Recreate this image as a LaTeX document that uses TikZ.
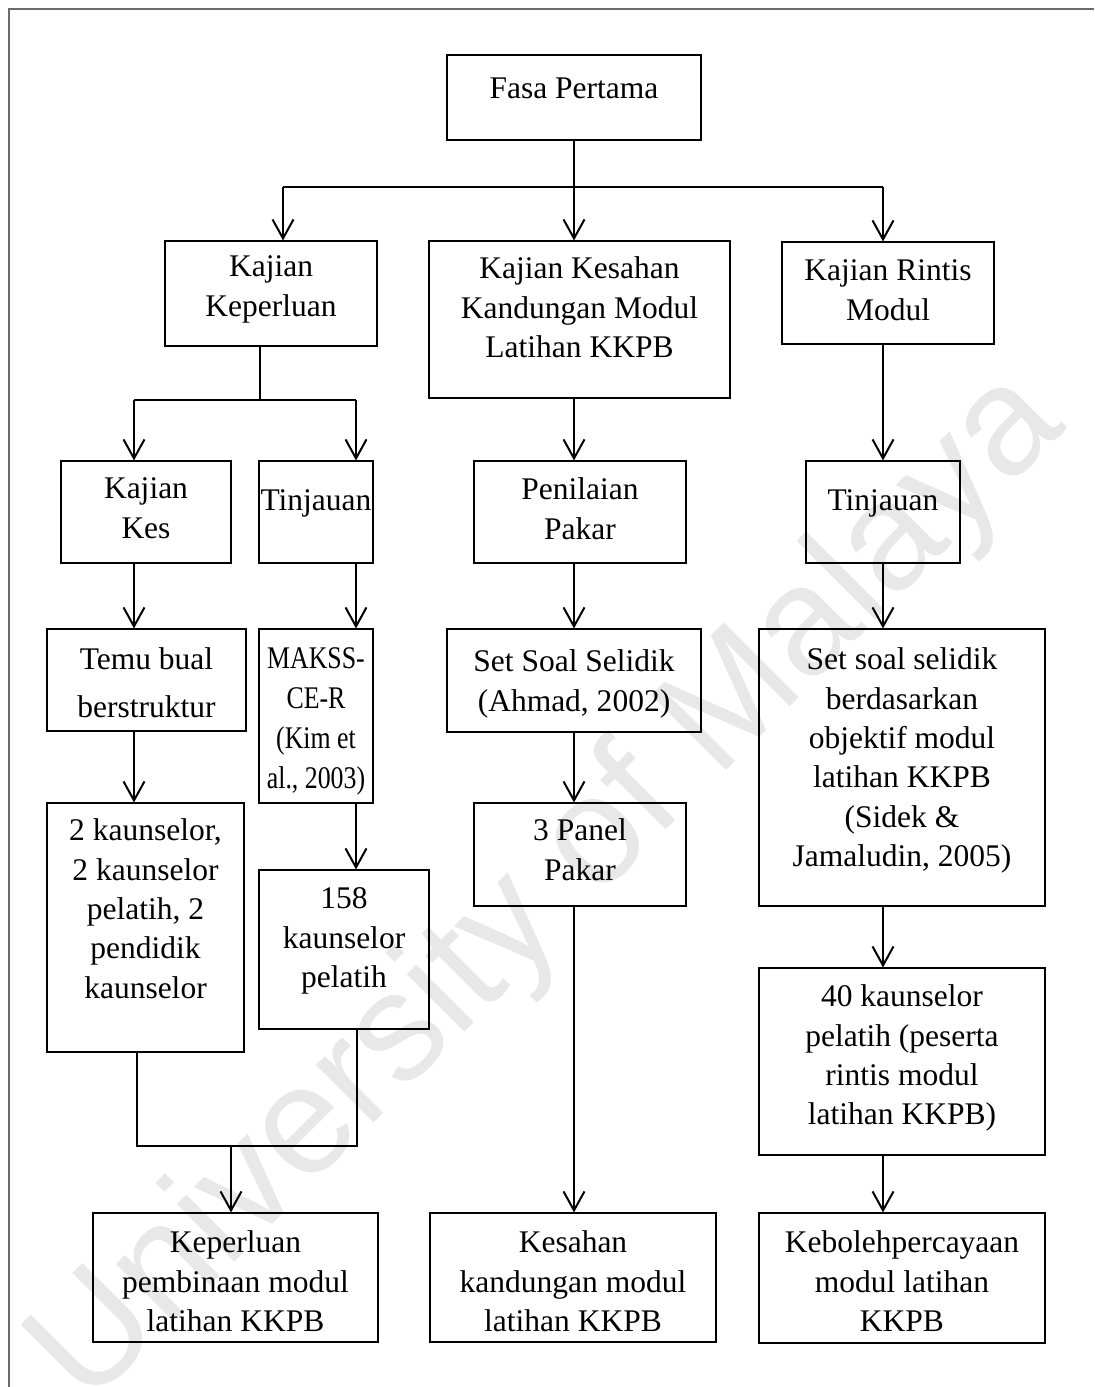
\documentclass[tikz,border=0pt]{standalone}
\usepackage{fontspec}
\setmainfont{Liberation Serif}
\newfontfamily\narrowserif[FakeStretch=0.82]{Liberation Serif}
\newfontfamily\wmfont{Liberation Sans}
\usetikzlibrary{arrows.meta,fit,calc}

% box from its two corners (pixel grid, y downwards)
\newcommand\bx[5]{%
  \coordinate (#1-a) at (#2,#3);
  \coordinate (#1-b) at (#4,#5);
  \node[box,fit=(#1-a)(#1-b)] (#1) {};}
% text of a box, placed by the top of its first line
\newcommand\tx[4][]{%
  \coordinate (#2-y) at (0,#3);
  \node[txt,#1] (#2-t) at (#2.north |- #2-y) {#4};}

\begin{document}
\begin{tikzpicture}[x=0.5pt,y=-0.5pt,
  box/.style={draw, line width=0.55pt, inner sep=0pt},
  txt/.style={align=center, inner sep=0pt, anchor=north,
    font=\fontsize{15.75}{19.7}\selectfont,
    execute at begin node=\strut, execute at end node=\strut},
  narrow/.style={font=\narrowserif\fontsize{15.75}{20}\selectfont},
  conn/.style={line width=1pt},
  arr/.style={conn, -{Straight Barb[length=9.5pt,width=10.5pt]}},
  frameline/.style={draw=black!58, line width=1pt},
  watermark/.style={text=black!9, font=\wmfont\fontsize{77}{90}\selectfont, inner sep=0pt}
]
\useasboundingbox (0,0) rectangle (1094,1387);

% watermark
\node[watermark, rotate=45] (wm) at (550,890) {University of Malaya};

% page frame
\draw[frameline] (1094,9) -- (9,9) -- (9,1387);

% boxes
\bx{B0}{447}{55}{701}{140}
\bx{B1}{165}{241}{377}{346}
\bx{B2}{429}{241}{730}{398}
\bx{B3}{782}{242}{994}{344}
\bx{B4}{61}{461}{231}{563}
\bx{B5}{259}{461}{373}{563}
\bx{B6}{474}{461}{686}{563}
\bx{B7}{806}{461}{960}{563}
\bx{B8}{47}{629}{246}{731}
\bx{B9}{259}{629}{373}{803}
\bx{B10}{447}{629}{701}{732}
\bx{B11}{759}{629}{1045}{906}
\bx{B12}{47}{803}{244}{1052}
\bx{B13}{259}{870}{429}{1029}
\bx{B14}{474}{803}{686}{906}
\bx{B15}{759}{968}{1045}{1155}
\bx{B16}{93}{1213}{378}{1342}
\bx{B17}{430}{1213}{716}{1342}
\bx{B18}{759}{1213}{1045}{1343}

% texts
\tx{B0}{70.4}{Fasa Pertama}
\tx{B1}{255.4}{Kajian\\Keperluan}
\tx{B2}{256.4}{Kajian Kesahan\\Kandungan Modul\\Latihan KKPB}
\tx{B3}{259.4}{Kajian Rintis\\Modul}
\tx{B4}{477.4}{Kajian\\Kes}
\tx{B5}{482.4}{Tinjauan}
\tx{B6}{477.4}{Penilaian\\Pakar}
\tx{B7}{482.4}{Tinjauan}
\tx{B8}{647.4}{Temu bual\\[4pt]berstruktur}
\tx[narrow]{B9}{647}{MAKSS-\\CE-R\\(Kim et\\al., 2003)}
\tx{B10}{649.4}{Set Soal Selidik\\(Ahmad, 2002)}
\tx{B11}{647.4}{Set soal selidik\\berdasarkan\\objektif modul\\latihan KKPB\\(Sidek \&\\Jamaludin, 2005)}
\tx{B12}{818.4}{2 kaunselor,\\2 kaunselor\\pelatih, 2\\pendidik\\kaunselor}
\tx{B13}{887.4}{158\\kaunselor\\pelatih}
\tx{B14}{818.4}{3 Panel\\Pakar}
\tx{B15}{984.4}{40 kaunselor\\pelatih (peserta\\rintis modul\\latihan KKPB)}
\tx{B16}{1230.4}{Keperluan\\pembinaan modul\\latihan KKPB}
\tx{B17}{1230.4}{Kesahan\\kandungan modul\\latihan KKPB}
\tx{B18}{1230.4}{Kebolehpercayaan\\modul latihan\\KKPB}

% branch points
\coordinate (t0) at (574,187);
\coordinate (tL) at (283,187);
\coordinate (tR) at (883,187);
\coordinate (k0) at (260,400);
\coordinate (kL) at (134,400);
\coordinate (kR) at (356,400);
\coordinate (mL) at (137,1146);
\coordinate (mR) at (357,1146);
\coordinate (m0) at (231,1146);

% first split
\draw[conn] (B0.south -| t0) -- (t0);
\draw[conn] (tL) -- (tR);
\draw[arr] (tL) -- (tL |- B1.north);
\draw[arr] (t0) -- (t0 |- B2.north);
\draw[arr] (tR) -- (tR |- B3.north);

% second split
\draw[conn] (k0 |- B1.south) -- (k0);
\draw[conn] (kL) -- (kR);
\draw[arr] (kL) -- (kL |- B4.north);
\draw[arr] (kR) -- (kR |- B5.north);

% left columns
\draw[arr] (kL |- B4.south) -- (kL |- B8.north);
\draw[arr] (kL |- B8.south) -- (kL |- B12.north);
\draw[arr] (kR |- B5.south) -- (kR |- B9.north);
\draw[arr] (kR |- B9.south) -- (kR |- B13.north);

% merge into the first result
\draw[conn] (mL |- B12.south) -- (mL) -- (mR) -- (mR |- B13.south);
\draw[arr] (m0) -- (m0 |- B16.north);

% middle column
\draw[arr] (t0 |- B2.south) -- (t0 |- B6.north);
\draw[arr] (t0 |- B6.south) -- (t0 |- B10.north);
\draw[arr] (t0 |- B10.south) -- (t0 |- B14.north);
\draw[arr] (t0 |- B14.south) -- (t0 |- B17.north);

% right column
\draw[arr] (tR |- B3.south) -- (tR |- B7.north);
\draw[arr] (tR |- B7.south) -- (tR |- B11.north);
\draw[arr] (tR |- B11.south) -- (tR |- B15.north);
\draw[arr] (tR |- B15.south) -- (tR |- B18.north);
\end{tikzpicture}
\end{document}
